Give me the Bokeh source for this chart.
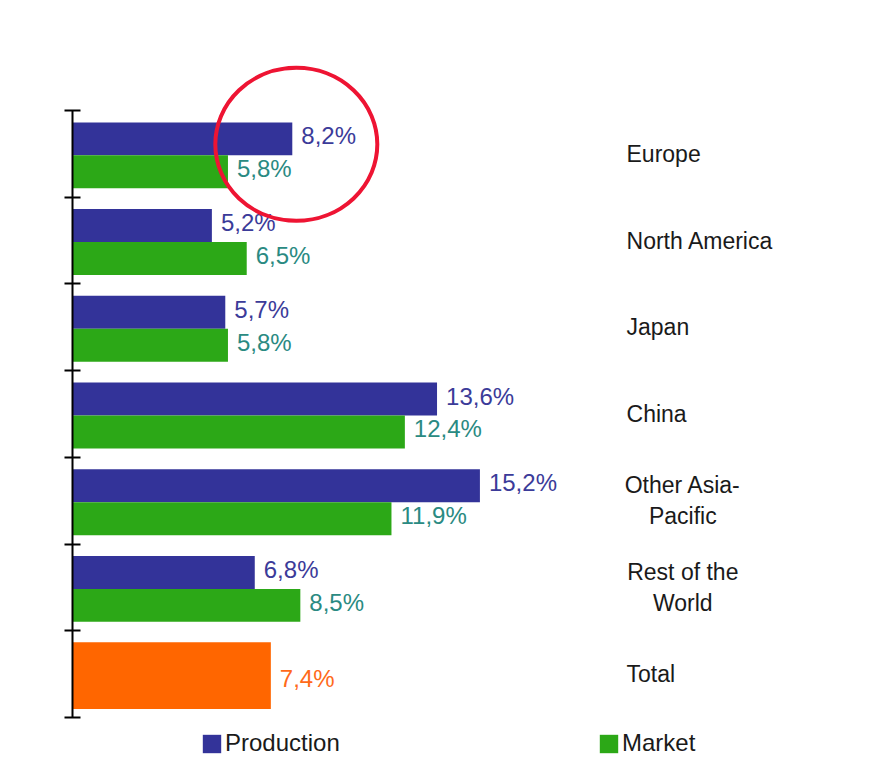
from bokeh.plotting import figure
from bokeh.models import Range1d, FixedTicker, Legend, LegendItem, ColumnDataSource
from bokeh.core.properties import value
from bokeh.embed import file_html
from bokeh.resources import INLINE

# ---- data ----
regions = ["Europe", "North America", "Japan", "China", "Other Asia-\nPacific", "Rest of the\nWorld"]
production = [8.2, 5.2, 5.7, 13.6, 15.2, 6.8]
market = [5.8, 6.5, 5.8, 12.4, 11.9, 8.5]
total_label = "Total"
total_value = 7.4
# highlighted value (circled): Europe production
highlight_index = 0

FONT = "Liberation Sans"
PROD_C = "#333399"
MARK_C = "#2ca817"
TOT_C = "#ff6600"

n = len(regions) + 1  # + total
centers = [n - i - 0.5 for i in range(len(regions))]
total_center = 0.5

def fmt(v):
    return f"{v:.1f}".replace(".", ",") + "%"

p = figure(width=867, height=764, output_backend="svg", toolbar_location=None,
           x_range=Range1d(0, 29.66), y_range=Range1d(-0.542, 8.269),
           min_border_left=72, min_border_right=0, min_border_top=0, min_border_bottom=0)
p.outline_line_color = None
p.xgrid.visible = False
p.ygrid.visible = False
p.xaxis.visible = False
p.background_fill_color = "white"
p.border_fill_color = "white"

ax = p.yaxis[0]
ax.ticker = FixedTicker(ticks=list(range(n + 1)))
ax.bounds = (0, n)
ax.major_label_overrides = {i: "" for i in range(n + 1)}
ax.major_label_text_font_size = "1px"
ax.major_tick_in = 8
ax.major_tick_out = 8
ax.minor_tick_line_color = None
ax.axis_line_width = 2
ax.major_tick_line_width = 2
ax.axis_line_color = "black"
ax.major_tick_line_color = "black"

shift = -0.017
off = 0.19
bh = 0.38
prod_src = ColumnDataSource(dict(y=[c + off + shift for c in centers], v=production,
                                 lab=[fmt(v) for v in production]))
mark_src = ColumnDataSource(dict(y=[c - off + shift for c in centers], v=market,
                                 lab=[fmt(v) for v in market]))
tot_src = ColumnDataSource(dict(y=[total_center + shift], v=[total_value], lab=[fmt(total_value)]))

r_prod = p.hbar(y="y", right="v", left=0, height=bh, source=prod_src, fill_color=PROD_C, line_color=None)
r_mark = p.hbar(y="y", right="v", left=0, height=bh, source=mark_src, fill_color=MARK_C, line_color=None)
p.hbar(y="y", right="v", left=0, height=0.77, source=tot_src, fill_color=TOT_C, line_color=None)

p.text(x="v", y="y", text="lab", source=prod_src, x_offset=9, y_offset=-3,
       text_font=value(FONT), text_font_size="24px", text_color="#3b3b99",
       text_baseline="middle", text_align="left")
p.text(x="v", y="y", text="lab", source=mark_src, x_offset=9, y_offset=-3,
       text_font=value(FONT), text_font_size="24px", text_color="#2a8a82",
       text_baseline="middle", text_align="left")
p.text(x="v", y="y", text="lab", source=tot_src, x_offset=9, y_offset=3,
       text_font=value(FONT), text_font_size="24px", text_color="#ff6a1a",
       text_baseline="middle", text_align="left")

# category labels
single = [(r, c) for r, c in zip(regions, centers) if "\n" not in r] + [(total_label, total_center)]
multi = [(r, c) for r, c in zip(regions, centers) if "\n" in r]
label_x = 20.67
p.text(x=[label_x] * len(single), y=[c for _, c in single], text=[r for r, _ in single],
       text_font=value(FONT), text_font_size="23px", text_color="#1a1a1a",
       text_baseline="middle", text_align="left")
p.text(x=[label_x + 2.1] * len(multi), y=[c for _, c in multi], text=[r for r, _ in multi],
       text_font=value(FONT), text_font_size="23px", text_color="#1a1a1a",
       text_baseline="middle", text_align="center", text_line_height=1.2)

# highlight circle
p.ellipse(x=[production[highlight_index] + 0.15], y=[centers[highlight_index] + 0.11],
          width=162, height=153, width_units="screen", height_units="screen",
          fill_color=None, line_color="#ee1433", line_width=4)

def make_legend(label, rend, loc):
    return Legend(items=[LegendItem(label=label, renderers=[rend])], location=loc,
                  orientation="horizontal", glyph_width=23, glyph_height=23,
                  label_standoff=2, label_text_font=FONT, label_text_font_size="24px",
                  label_text_color="#1a1a1a", padding=0, margin=0, spacing=0,
                  border_line_color=None, background_fill_alpha=0)

p.add_layout(make_legend("Production", r_prod, (128, 7)))
p.add_layout(make_legend("Market", r_mark, (525, 7)))

open("out.html", "w").write(file_html(p, INLINE))
